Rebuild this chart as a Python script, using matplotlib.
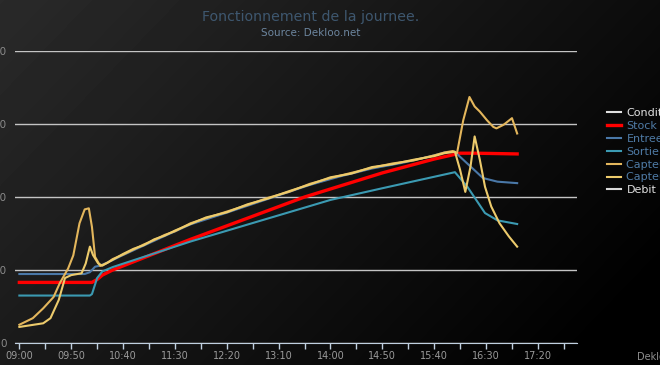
import matplotlib
matplotlib.use("Agg")
import matplotlib.pyplot as plt
import numpy as np

# ---------------- data (minutes after 09:00) ----------------
stock_t = [0, 70, 75, 80, 90, 165, 275, 300, 350, 400, 425, 440, 480]
stock_v = [8.3, 8.3, 8.7, 9.3, 10.0, 14.2, 20.0, 21.1, 23.3, 25.2, 26.0, 26.0, 25.9]

entree_t = [0, 63, 68, 73, 78, 90, 100, 120, 140, 165, 200, 240, 280, 310, 340,
            370, 400, 410, 420, 425, 447, 461, 480]
entree_v = [9.45, 9.45, 9.7, 10.45, 10.6, 11.35, 12.05, 13.35, 14.65, 16.25, 17.85, 19.75,
            21.65, 22.85, 23.9, 24.7, 25.7, 26.1, 26.2, 25.5, 22.6, 22.1, 21.9]

sortie_t = [0, 68, 70, 75, 80, 90, 165, 300, 350, 420, 432, 449, 461, 480]
sortie_v = [6.5, 6.5, 6.7, 8.9, 9.8, 10.4, 13.9, 19.6, 21.2, 23.4, 21.4, 17.8, 16.8, 16.3]

cap1_t = [0, 13, 23, 33, 39, 47, 52, 58, 63, 67, 70, 73, 78, 85, 90, 100, 110, 120,
          130, 140, 150, 165, 180, 200, 220, 240, 260, 280, 300, 320, 340, 360, 380,
          400, 410, 418, 422, 428, 434, 439, 444, 451, 457, 460, 467, 475, 480]
cap1_v = [2.5, 3.4, 4.75, 6.3, 8.2, 10.2, 12.0, 16.4, 18.3, 18.45, 15.9, 11.8, 10.55,
          11.0, 11.5, 12.1, 12.8, 13.5, 14.1, 14.8, 15.3, 16.4, 17.1, 18.0, 18.9, 19.9,
          20.7, 21.8, 22.6, 23.3, 24.0, 24.6, 25.0, 25.7, 26.1, 26.3, 26.0, 30.5, 33.7,
          32.4, 31.7, 30.5, 29.6, 29.4, 29.9, 30.8, 28.7]

cap2_t = [0, 23, 30, 38, 44, 50, 60, 64, 68, 71, 76, 80, 90, 100, 110, 120, 130, 140,
          150, 165, 180, 200, 220, 240, 260, 280, 300, 320, 340, 360, 380, 400, 410,
          420, 425, 430, 435, 439, 444, 449, 455, 463, 472, 480]
cap2_v = [2.2, 2.7, 3.4, 5.9, 8.9, 9.3, 9.55, 10.9, 13.2, 12.05, 10.9, 10.6, 11.4, 12.2,
          12.9, 13.4, 14.2, 14.7, 15.4, 16.3, 17.2, 17.9, 19.0, 19.8, 20.8, 21.7, 22.7,
          23.2, 24.1, 24.5, 25.1, 25.6, 26.0, 26.2, 23.7, 20.7, 24.15, 28.3, 25.1, 21.4,
          18.7, 16.4, 14.6, 13.2]

y_ticks = [0, 10, 20, 30, 40]
x_ticks = list(range(0, 526, 25))
x_labels = ["%02d:%02d" % (9 + m // 60, m % 60) if i % 2 == 0 else ""
            for i, m in enumerate(x_ticks)]

W, H = 660, 365
fig = plt.figure(figsize=(W / 100, H / 100), dpi=100)

# dark gradient background
bg = fig.add_axes([0, 0, 1, 1], zorder=-1)
gx, gy = np.meshgrid(np.linspace(0, 1, W), np.linspace(0, 1, H))
shade = np.clip((42 - 30 * gx - 16 * gy) / 255, 0, 1)
bg.imshow(shade, cmap="gray", vmin=0, vmax=1, aspect="auto", interpolation="bilinear")
bg.axis("off")

ax = fig.add_axes([15 / W, 22 / H, 562 / W, 292 / H])
ax.set_facecolor("none")

ax.plot([], [], color="#E0E0E0", lw=1.5, label="Condition")
ax.plot(stock_t, stock_v, color="#FF0000", lw=2.4, label="Stock")
ax.plot(entree_t, entree_v, color="#4A78A8", lw=1.5, label="Entree")
ax.plot(sortie_t, sortie_v, color="#3B9AB2", lw=1.5, label="Sortie")
ax.plot(cap1_t, cap1_v, color="#E3B65C", lw=1.5, label="Capteur 1")
ax.plot(cap2_t, cap2_v, color="#EDCB6C", lw=1.5, label="Capteur 2")
ax.plot([], [], color="#D8D8D8", lw=1.5, label="Debit")

ax.set_xlim(-4.2, 537.7)
ax.set_ylim(0, 40)
ax.set_yticks(y_ticks)
ax.set_yticklabels([str(v) for v in y_ticks])
ax.set_xticks(x_ticks)
ax.set_xticklabels(x_labels)
ax.yaxis.grid(True, color="#C4C4C4", lw=1)
ax.set_axisbelow(True)
for s in ["top", "right", "left"]:
    ax.spines[s].set_visible(False)
ax.spines["bottom"].set_color("#C0D0E0")
ax.tick_params(axis="x", colors="#C0D0E0", length=4.5, width=1, direction="out",
               labelcolor="#9A9A9A", labelsize=7, pad=1)
ax.tick_params(axis="y", length=0, labelcolor="#8A8A8A", labelsize=7.5, pad=6)

fig.text(311 / W, 1 - 17.5 / H, "Fonctionnement de la journee.", color="#3E576F",
         fontsize=10.2, ha="center", va="center")
fig.text(311 / W, 1 - 32.5 / H, "Source: Dekloo.net", color="#6D869F",
         fontsize=7.5, ha="center", va="center")
fig.text(637 / W, 1 - 357 / H, "Dekloo.net", color="#909090", fontsize=7, va="center")

leg = fig.legend(loc="upper left", bbox_to_anchor=(607 / W, 1 - 108 / H),
                 frameon=False, borderpad=0, borderaxespad=0, fontsize=8,
                 handlelength=1.3, handletextpad=0.45, labelspacing=0.26)
text_colors = ["#E0E0E0", "#4F7BA6", "#4F7BA6", "#4F7BA6", "#4F7BA6", "#4F7BA6", "#E0E0E0"]
for txt, c in zip(leg.get_texts(), text_colors):
    txt.set_color(c)

fig.savefig("out.png", dpi=100)
